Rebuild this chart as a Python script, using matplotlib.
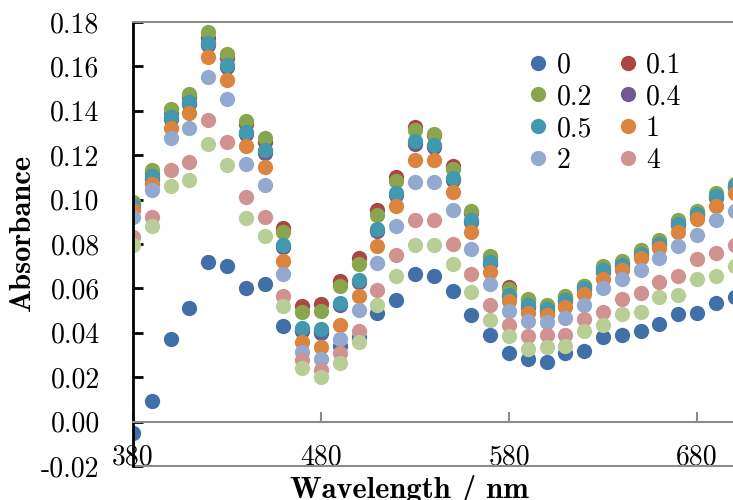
import matplotlib
matplotlib.use('Agg')
import matplotlib.pyplot as plt
from matplotlib.ticker import FormatStrFormatter, MultipleLocator

wavelengths = [380, 390, 400, 410, 420, 430, 440, 450, 460, 470, 480, 490, 500, 510, 520, 530, 540,
               550, 560, 570, 580, 590, 600, 610, 620, 630, 640, 650, 660, 670, 680, 690, 700]

abs0 = [-0.005, 0.0095, 0.037, 0.051, 0.072, 0.070, 0.060, 0.062, 0.043, 0.041, 0.040, 0.034, 0.038,
        0.049, 0.055, 0.0665, 0.0655, 0.059, 0.048, 0.039, 0.031, 0.028, 0.027, 0.031, 0.032, 0.038,
        0.039, 0.041, 0.044, 0.0485, 0.049, 0.0535, 0.056]
abs01 = [0.098, 0.112, 0.139, 0.146, 0.173, 0.164, 0.134, 0.126, 0.087, 0.052, 0.053, 0.0635, 0.0735,
         0.0955, 0.110, 0.1325, 0.129, 0.115, 0.094, 0.074, 0.0607, 0.055, 0.052, 0.056, 0.061, 0.069,
         0.0715, 0.0765, 0.081, 0.090, 0.094, 0.102, 0.106]
abs02 = [0.0988, 0.1135, 0.1409, 0.1477, 0.1755, 0.1656, 0.1353, 0.1278, 0.0856, 0.0494, 0.0497, 0.061,
         0.0712, 0.0932, 0.1086, 0.1312, 0.1296, 0.114, 0.0947, 0.0748, 0.0598, 0.0553, 0.0523, 0.0568,
         0.0613, 0.070, 0.0722, 0.0772, 0.0817, 0.0907, 0.095, 0.103, 0.107]
abs04 = [0.0965, 0.1095, 0.1362, 0.1432, 0.1695, 0.1598, 0.1295, 0.1212, 0.0786, 0.0414, 0.041, 0.0525,
         0.063, 0.086, 0.102, 0.1252, 0.1236, 0.109, 0.0898, 0.071, 0.0565, 0.0517, 0.0498, 0.0543,
         0.0595, 0.0675, 0.070, 0.075, 0.0795, 0.0885, 0.093, 0.1008, 0.1055]
abs05 = [0.0973, 0.1105, 0.1372, 0.1441, 0.1706, 0.1608, 0.1305, 0.1225, 0.0794, 0.0422, 0.0418, 0.0532,
         0.0637, 0.0868, 0.103, 0.1263, 0.1246, 0.1098, 0.0907, 0.0718, 0.0572, 0.0523, 0.0505, 0.055,
         0.0602, 0.0682, 0.0707, 0.0757, 0.0802, 0.0892, 0.0937, 0.1015, 0.1063]
abs1 = [0.0955, 0.107, 0.1322, 0.139, 0.1641, 0.1537, 0.124, 0.1146, 0.0722, 0.0357, 0.0338, 0.0434,
        0.0565, 0.079, 0.097, 0.118, 0.1179, 0.1033, 0.0854, 0.0673, 0.0542, 0.049, 0.0482, 0.0517,
        0.0575, 0.0643, 0.0685, 0.0737, 0.078, 0.0853, 0.0914, 0.0973, 0.103]
abs2 = [0.0922, 0.1042, 0.1278, 0.1322, 0.1553, 0.1453, 0.1162, 0.1064, 0.0665, 0.0314, 0.0284, 0.0372,
        0.0502, 0.0715, 0.0883, 0.108, 0.108, 0.0952, 0.0779, 0.062, 0.0497, 0.0452, 0.0447, 0.0467,
        0.0527, 0.060, 0.0643, 0.0682, 0.0736, 0.079, 0.0842, 0.0907, 0.0947]
abs4 = [0.0832, 0.0922, 0.1135, 0.1171, 0.136, 0.1258, 0.1012, 0.0922, 0.0568, 0.0276, 0.0234, 0.031,
        0.0407, 0.0591, 0.0749, 0.0907, 0.091, 0.0802, 0.0667, 0.0523, 0.0437, 0.0384, 0.0392, 0.0392,
        0.0463, 0.0494, 0.0554, 0.058, 0.0631, 0.0658, 0.0733, 0.076, 0.0797]
abs8 = [0.0794, 0.088, 0.106, 0.1087, 0.1252, 0.1156, 0.0919, 0.0835, 0.0519, 0.024, 0.0201, 0.0264,
        0.0357, 0.0527, 0.0658, 0.0794, 0.0797, 0.0712, 0.0582, 0.0459, 0.0384, 0.0327, 0.0335, 0.0339,
        0.041, 0.0437, 0.0486, 0.0494, 0.0562, 0.0572, 0.0643, 0.0655, 0.070]

labels = ['0', '0.1', '0.2', '0.4', '0.5', '1', '2', '4', None]
colors = ['#4170A8', '#AA4643', '#89A54E', '#71588F', '#4198AF', '#DB843D', '#93A9CF', '#D19392', '#B9CD96']
xticks = [380, 480, 580, 680]

plt.rcParams['font.family'] = 'cmr10'
plt.rcParams['axes.unicode_minus'] = False


def main():
    fig = plt.figure(figsize=(7.33, 5.0), dpi=100)
    ax = fig.add_axes([133 / 733, 1 - 466 / 500, 1 - 133 / 733, 444 / 500])

    series = [abs0, abs01, abs02, abs04, abs05, abs1, abs2, abs4, abs8]
    handles = []
    for vals, lab, col in zip(series, labels, colors):
        h, = ax.plot(wavelengths, vals, linestyle='none', marker='o', markersize=11,
                     markerfacecolor=col, markeredgecolor=col, markeredgewidth=0)
        if lab is not None:
            h.set_label(lab)
            handles.append(h)

    ax.set_xlim(380, 699.1)
    ax.set_ylim(-0.02, 0.18)

    # y axis: black line, inward ticks
    ax.yaxis.set_major_locator(MultipleLocator(0.02))
    ax.yaxis.set_major_formatter(FormatStrFormatter('%.2f'))
    ax.spines['left'].set_color('black')
    ax.spines['left'].set_linewidth(2)
    ax.tick_params(axis='y', direction='in', length=7, width=2, pad=24, labelsize=20)

    # x axis sits at zero, grey, labels pushed down near the frame
    ax.spines['bottom'].set_position(('data', 0))
    ax.spines['bottom'].set_color('#8c8c8c')
    ax.spines['bottom'].set_linewidth(1.5)
    ax.set_xticks(xticks)
    ax.tick_params(axis='x', direction='in', length=7, width=1.5, color='#8c8c8c', pad=16, labelsize=20)

    ax.spines['top'].set_color('#8c8c8c')
    ax.spines['top'].set_linewidth(1.5)
    ax.spines['right'].set_visible(False)
    ax.axhline(-0.02, color='#8c8c8c', linewidth=1.5, clip_on=False)

    ax.set_ylabel('Absorbance', fontfamily='cmb10', fontsize=22)
    ax.yaxis.set_label_coords(-0.162, 0.527)
    ax.set_xlabel('Wavelength / nm', fontfamily='cmb10', fontsize=22)
    ax.xaxis.set_label_coords(0.46, -0.02)

    order = [0, 2, 4, 6, 1, 3, 5, 7]
    ax.legend([handles[i] for i in order], [labels[i] for i in order], ncol=2, frameon=False,
              loc='upper left', bbox_to_anchor=(530 / 733, 1 - 52 / 500), bbox_transform=fig.transFigure,
              fontsize=20, handlelength=0.6, handletextpad=0.35, labelspacing=0.2, columnspacing=1.0,
              borderpad=0, borderaxespad=0)

    fig.savefig('out.png', dpi=100)


if __name__ == '__main__':
    main()
